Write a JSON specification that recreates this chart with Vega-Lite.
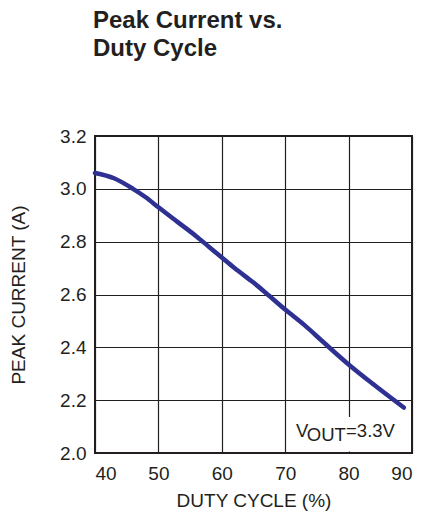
{
  "$schema": "https://vega.github.io/schema/vega-lite/v6.json",
  "width": 317,
  "height": 317,
  "autosize": {"type": "none"},
  "padding": {"left": 95, "top": 136, "right": 10, "bottom": 61},
  "background": "white",
  "title": {
    "text": ["Peak Current vs.", "Duty Cycle"],
    "anchor": "start",
    "frame": "group",
    "font": "Liberation Sans",
    "fontSize": 24,
    "fontWeight": "bold",
    "color": "#231f20",
    "lineHeight": 28,
    "offset": 66,
    "dx": -2
  },
  "config": {
    "view": {"stroke": "#231f20", "strokeWidth": 2},
    "axis": {
      "labelFont": "Liberation Sans",
      "titleFont": "Liberation Sans",
      "labelFontSize": 19,
      "titleFontSize": 19,
      "titleFontWeight": "normal",
      "labelColor": "#231f20",
      "titleColor": "#231f20",
      "grid": true,
      "gridColor": "#231f20",
      "gridOpacity": 1,
      "gridWidth": 1.2,
      "ticks": false,
      "domain": false
    }
  },
  "layer": [
    {
      "data": {"values": [
        {"duty": 40, "current": 3.06},
        {"duty": 43, "current": 3.04},
        {"duty": 46, "current": 3.0},
        {"duty": 48, "current": 2.968},
        {"duty": 50, "current": 2.93},
        {"duty": 53, "current": 2.875},
        {"duty": 56, "current": 2.82},
        {"duty": 58, "current": 2.78},
        {"duty": 60, "current": 2.74},
        {"duty": 62, "current": 2.70},
        {"duty": 65, "current": 2.645},
        {"duty": 67, "current": 2.605},
        {"duty": 70, "current": 2.543},
        {"duty": 73, "current": 2.485},
        {"duty": 76, "current": 2.42},
        {"duty": 80, "current": 2.335},
        {"duty": 84, "current": 2.258},
        {"duty": 88.7, "current": 2.172}
      ]},
      "mark": {"type": "line", "color": "#2e3192", "strokeWidth": 4.5, "strokeCap": "round", "interpolate": "monotone"},
      "encoding": {
        "x": {"field": "duty", "type": "quantitative", "scale": {"domain": [40, 90], "nice": false},
              "axis": {"values": [40, 50, 60, 70, 80, 90], "title": "DUTY CYCLE (%)", "labelPadding": 11, "titlePadding": 8}},
        "y": {"field": "current", "type": "quantitative", "scale": {"domain": [2.0, 3.2], "nice": false, "zero": false},
              "axis": {"values": [2.0, 2.2, 2.4, 2.6, 2.8, 3.0, 3.2], "format": ".1f", "title": "PEAK CURRENT (A)", "labelPadding": 9, "titlePadding": 31}}
      }
    },
    {
      "data": {"values": [{"x1": 71.2, "x2": 88.5, "y1": 2.006, "y2": 2.136}]},
      "mark": {"type": "rect", "fill": "white"},
      "encoding": {
        "x": {"field": "x1", "type": "quantitative"},
        "x2": {"field": "x2"},
        "y": {"field": "y1", "type": "quantitative"},
        "y2": {"field": "y2"}
      }
    },
    {
      "data": {"values": [
        {"x": 71.7, "y": 2.06, "label": "V"},
        {"x": 73.4, "y": 2.045, "label": "OUT"},
        {"x": 79.6, "y": 2.06, "label": "=3.3V"}
      ]},
      "mark": {"type": "text", "align": "left", "baseline": "alphabetic", "font": "Liberation Sans", "fontSize": 18.5, "color": "#231f20"},
      "encoding": {
        "x": {"field": "x", "type": "quantitative"},
        "y": {"field": "y", "type": "quantitative"},
        "text": {"field": "label"}
      }
    }
  ]
}
